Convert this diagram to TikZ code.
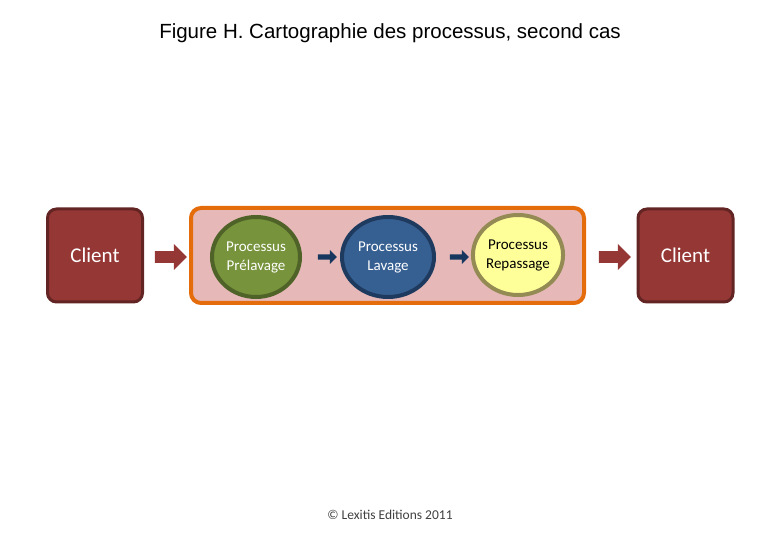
\documentclass[tikz,border=0pt]{standalone}
\usepackage{fontspec}
\setmainfont{Carlito}
\newfontfamily\arial{Liberation Sans}
\usetikzlibrary{shapes.arrows,shapes.geometric}
\definecolor{cred}{HTML}{953735}
\definecolor{cdred}{HTML}{632523}
\definecolor{corange}{HTML}{E46C0A}
\definecolor{cpink}{HTML}{E6B9B8}
\definecolor{cgreen}{HTML}{77933C}
\definecolor{cdgreen}{HTML}{4F6228}
\definecolor{cblue}{HTML}{376092}
\definecolor{cdblue}{HTML}{1F3A5F}
\definecolor{cyellow}{HTML}{FFFF99}
\definecolor{cgold}{HTML}{948A54}
\definecolor{cnavy}{HTML}{17375E}
\tikzset{
 client/.style={draw=cdred,line width=3pt,fill=cred,rounded corners=9pt,minimum width=95pt,minimum height=93pt,text=white,font=\fontsize{21}{25}\selectfont},
 proc/.style={ellipse,line width=4pt,minimum width=88pt,minimum height=80pt,align=center,font=\fontsize{15}{19}\selectfont,inner sep=0pt},
 bigarr/.style={single arrow,fill=cred,draw=none,minimum height=32pt,minimum width=26pt,single arrow head extend=5pt,inner sep=4pt},
 smallarr/.style={single arrow,fill=cnavy,draw=none,minimum height=19pt,minimum width=14pt,single arrow head extend=3pt,inner sep=1.5pt}
}
\begin{document}
\begin{tikzpicture}[x=1pt,y=-1pt]
\useasboundingbox (0,0) rectangle (780,540);
\node[font=\arial\fontsize{20.5}{24}\selectfont] (title) at (390,33) {Figure H. Cartographie des processus, second cas};
\node[draw=corange,line width=4pt,fill=cpink,rounded corners=10pt,minimum width=393pt,minimum height=95pt] (box) at (387.5,255.5) {};
\node[client] (c1) at (95,255.5) {Client};
\node[client] (c2) at (685.5,255.5) {Client};
\node[proc,draw=cdgreen,fill=cgreen,text=white] (p1) at (256,257) {Processus\\Prélavage};
\node[proc,draw=cdblue,fill=cblue,text=white,minimum width=92pt] (p2) at (388,257) {Processus\\Lavage};
\node[proc,draw=cgold,fill=cyellow,text=black] (p3) at (518,255) {Processus\\Repassage};
\node[bigarr] (a1) at (168,257) {};
\node[bigarr] (a4) at (612,257) {};
\node[smallarr] (a2) at (326,257) {};
\node[smallarr] (a3) at (458,257) {};
\node[font=\fontsize{13.5}{16}\selectfont,text=black!75] (foot) at (390,515) {© Lexitis Editions 2011};
\end{tikzpicture}
\end{document}
